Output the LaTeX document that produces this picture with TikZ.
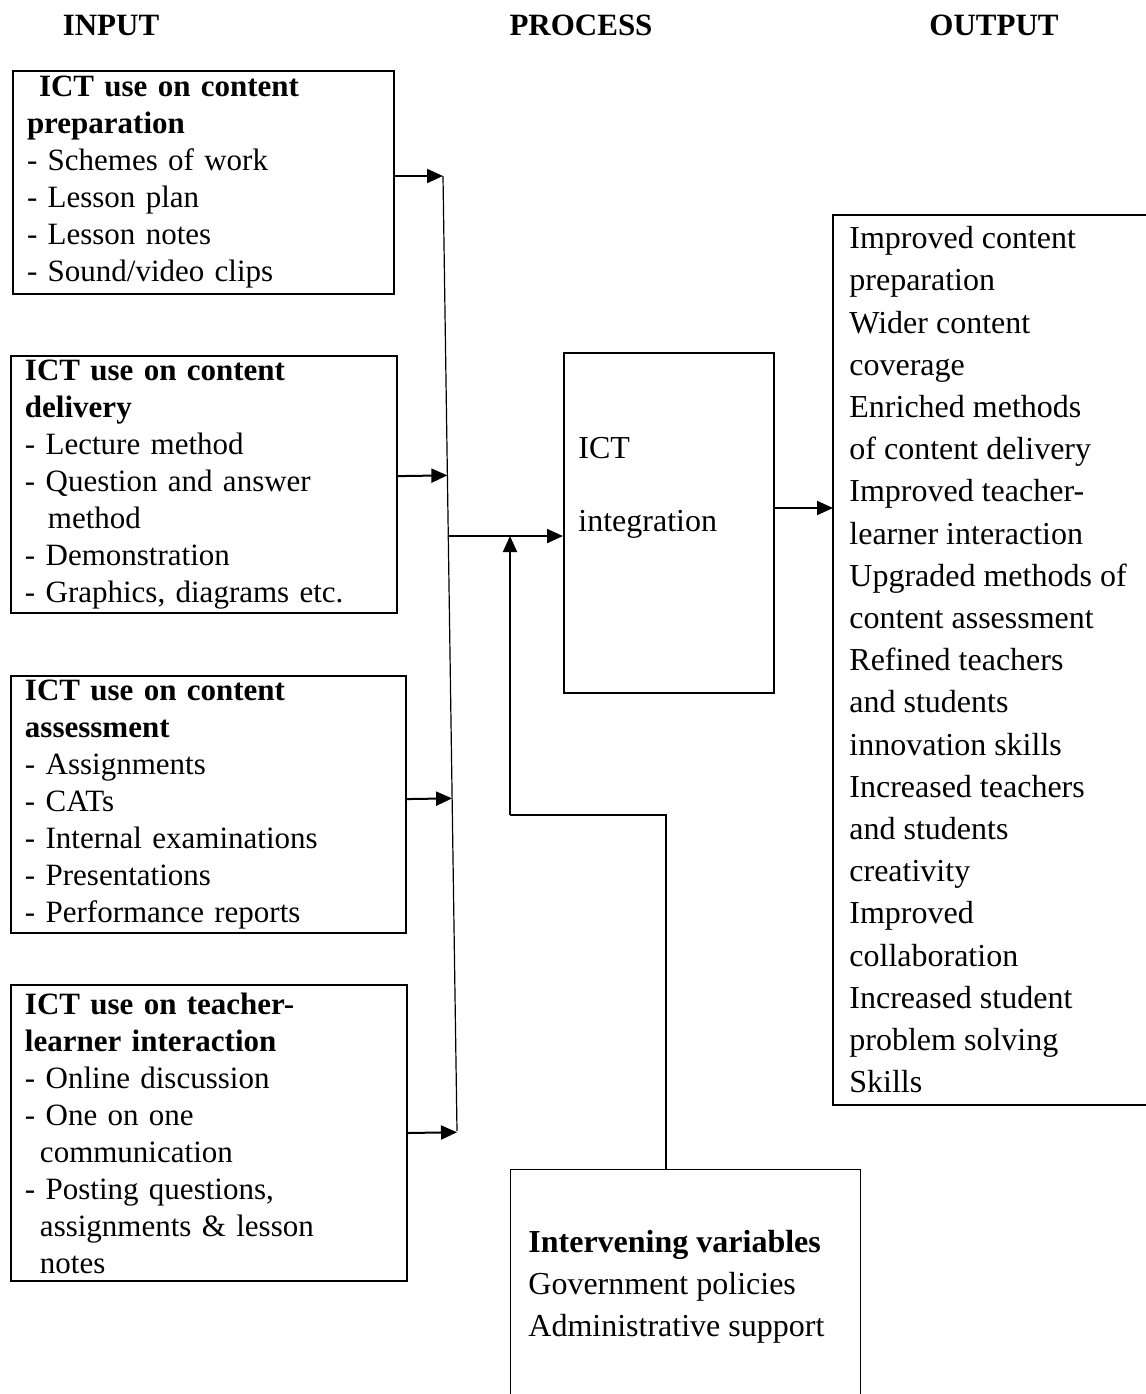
\documentclass[tikz,border=0pt]{standalone}
\usepackage{fontspec}
\setmainfont{Liberation Serif}
\usetikzlibrary{arrows.meta,calc}

\begin{document}
\begin{tikzpicture}[x=0.5pt,y=-0.5pt,
    head/.style={font=\fontsize{15.5}{18.5}\selectfont\bfseries},
    inbox/.style={draw,line width=1pt,anchor=north west,align=left,
      inner xsep=7pt,inner ysep=2pt,font=\fontsize{15.5}{18.5}\selectfont},
    txt/.style={anchor=north west,align=left,inner sep=0pt},
    arr/.style={line width=1pt,-{Triangle[length=8pt,width=7pt]}},
    bus/.style={line width=0.6pt}]
  \useasboundingbox (0,0) rectangle (1146,1394);

  % headings
  \node[head] (hin) at (111,25) {INPUT};
  \node[head] (hproc) at (581,25) {PROCESS};
  \node[head] (hout) at (994,25) {OUTPUT};

  % input boxes
  \node[inbox,minimum width=190.5pt,minimum height=111.5pt,text width=176.5pt] (prep) at (12,70)
    {\hspace*{6pt}\textbf{ICT use on content}\\ \textbf{preparation}\\ - Schemes of work\\ - Lesson plan\\ - Lesson notes\\ - Sound/video clips};
  \node[inbox,minimum width=193pt,minimum height=128.5pt,text width=179pt] (deliv) at (10,355)
    {\textbf{ICT use on content}\\ \textbf{delivery}\\ - Lecture method\\ - Question and answer\\ \hspace*{11.5pt}method\\ - Demonstration\\ - Graphics, diagrams etc.};
  \node[inbox,minimum width=197.5pt,minimum height=128.5pt,text width=183.5pt] (assess) at (10,675)
    {\textbf{ICT use on content}\\ \textbf{assessment}\\ - Assignments\\ - CATs\\ - Internal examinations\\ - Presentations\\ - Performance reports};
  \node[inbox,minimum width=198pt,minimum height=148pt,text width=184pt] (inter) at (10,984)
    {\textbf{ICT use on teacher-}\\ \textbf{learner interaction}\\ - Online discussion\\ - One on one\\ \hspace*{7.5pt}communication\\ - Posting questions,\\ \hspace*{7.5pt}assignments \& lesson\\ \hspace*{7.5pt}notes};

  % bus line
  \coordinate (bustop) at (443,176);
  \coordinate (busbot) at (457,1131);
  \coordinate (busmid) at ($(bustop)!0.377!(busbot)$);
  \draw[bus] (bustop) -- (busbot);
  \coordinate (d2) at ([yshift=4.25pt]deliv.east);
  \coordinate (d3) at ([yshift=2.75pt]assess.east);
  \draw[arr] (prep.east |- bustop) -- (bustop);
  \draw[arr] (d2) -- ($(bustop)!(d2)!(busbot)$);
  \draw[arr] (d3) -- ($(bustop)!(d3)!(busbot)$);
  \draw[arr] (inter.east) -- ($(bustop)!(inter.east)!(busbot)$);

  % process
  \node[draw,line width=1pt,anchor=north west,minimum width=105pt,minimum height=170pt] (ict) at (563,352) {};
  \node[txt,font=\fontsize{16}{18.5}\selectfont] (ictlbl) at (578,437) {ICT\\[18pt]integration};
  \draw[arr] (busmid) -- (busmid -| ict.west);

  % output
  \node[anchor=north west,minimum width=157pt,minimum height=444.5pt] (outcome) at (833,215) {};
  \draw[line width=1pt] (outcome.north east) -- (outcome.north west) -- (outcome.south west) -- (outcome.south east);
  \node[txt,font=\fontsize{16}{21.1}\selectfont] (outlist) at (849,226)
    {Improved content\\ preparation\\ Wider content\\ coverage\\ Enriched methods\\ of content delivery\\
     Improved teacher-\\ learner interaction\\ Upgraded methods of\\ content assessment\\ Refined teachers\\
     and students\\ innovation skills\\ Increased teachers\\ and students\\ creativity\\ Improved\\
     collaboration\\ Increased student\\ problem solving\\ Skills};
  \draw[arr] ([yshift=7.5pt]ict.east) -- ([yshift=7.5pt]ict.east -| outcome.west);

  % intervening variables
  \node[draw,line width=0.7pt,anchor=north west,minimum width=175pt,minimum height=114pt] (ivbox) at (510,1169) {};
  \node[txt,font=\fontsize{16}{21}\selectfont] (ivlist) at (528,1230)
    {\textbf{Intervening variables}\\ Government policies\\ Administrative support};
  \coordinate (fbk) at (510,815);
  \draw[line width=0.8pt] ([xshift=-10pt]ivbox.north) |- (fbk);
  \draw[arr] (fbk) -- (fbk |- busmid);
\end{tikzpicture}
\end{document}
